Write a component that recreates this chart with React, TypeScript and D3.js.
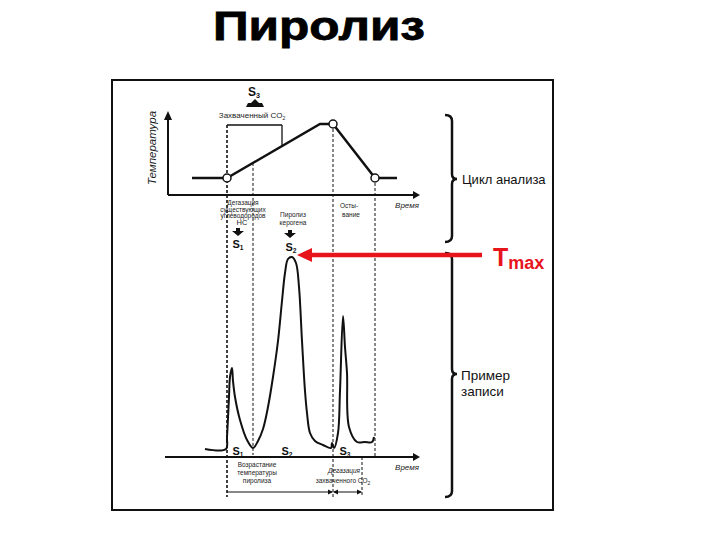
import React from 'react';
import * as d3 from 'd3';

// temperature program of the analysis cycle (time units, deg C)
const tempTime = [24, 59, 152, 165, 207, 229];
const tempValue = [300, 300, 600, 600, 300, 300];
const tempMarkers = [59, 165, 207];

// recorded FID signal (time units, relative intensity)
const sigTime = [37, 58, 59, 61, 62, 64, 65, 67, 72, 79, 85, 90, 95, 100, 105, 110, 114, 117, 120, 124, 128, 131, 134, 137, 139, 142, 147, 155, 163, 164, 166, 170, 172, 175, 177, 179, 181, 189, 197, 204, 206];
const sigValue = [4, 4, 10, 30, 40, 44.5, 38, 30, 18.5, 8.5, 4.5, 8, 14, 25, 40, 58, 78, 92, 99, 100, 97, 85, 58, 33, 22, 12, 8, 6, 4.5, 7, 4.5, 12, 33, 70.5, 55, 42, 15, 7.5, 7.5, 7.5, 10];

// phase boundaries (time units)
const tStart = 59;     // start of heating
const tS1End = 85;     // end of free HC degassing
const tTrapEnd = 114;  // end of CO2 trapping
const tHold = 165;     // end of max temperature plateau
const tCoolEnd = 207;  // end of cooling
const tCO2End = 194;   // end of trapped CO2 degassing
const tPeakS2 = 122;   // Tmax

const title = 'Пиролиз';
const upperLabel = 'Цикл анализа';
const lowerLabel = ['Пример', 'записи'];

const x = d3.scaleLinear().domain([0, 250]).range([168, 418]);
const yT = d3.scaleLinear().domain([200, 650]).range([196, 115]);
const yS = d3.scaleLinear().domain([0, 100]).range([457, 257]);

const RED = '#e8141c';
const FONT = '"Liberation Sans", Arial, sans-serif';

function DownArrow({ cx, y }: { cx: number; y: number }) {
  const p = [[cx - 2, y], [cx + 2, y], [cx + 2, y + 3], [cx + 6, y + 3], [cx, y + 8], [cx - 6, y + 3], [cx - 2, y + 3]];
  return <polygon points={p.map(d => d.join(',')).join(' ')} fill="#111" />;
}

function Brace({ xb, y1, y2, ym }: { xb: number; y1: number; y2: number; ym: number }) {
  const d = `M${xb - 7},${y1} Q${xb},${y1} ${xb},${y1 + 6} L${xb},${ym - 5} Q${xb},${ym} ${xb + 5},${ym} Q${xb},${ym} ${xb},${ym + 5} L${xb},${y2 - 6} Q${xb},${y2} ${xb - 7},${y2}`;
  return <path d={d} fill="none" stroke="#111" strokeWidth={2.5} />;
}

function SLabel({ x0, y0, n, size = 11 }: { x0: number; y0: number; n: number; size?: number }) {
  return (
    <text x={x0} y={y0} fontSize={size} fontWeight="bold" fontFamily={FONT} textAnchor="middle" fill="#111">
      S<tspan fontSize={size * 0.6} dy={2}>{n}</tspan>
    </text>
  );
}

export default function App() {
  const tempLine = d3.line<number>()
    .x((d, i) => x(tempTime[i]))
    .y((d) => yT(d));
  const sigLine = d3.line<number>()
    .x((d, i) => x(sigTime[i]))
    .y((d) => yS(d))
    .curve(d3.curveCatmullRom.alpha(0.5));

  const tAt = (t: number) => {
    const i = d3.bisectLeft(tempTime, t);
    if (i <= 0) return tempValue[0];
    const t0 = tempTime[i - 1], t1 = tempTime[i];
    return tempValue[i - 1] + (tempValue[i] - tempValue[i - 1]) * (t - t0) / (t1 - t0);
  };

  const axisY0 = yT(200) - 1; // 195
  const axisY1 = 457;
  const dash = '3,2';
  const small = { fontFamily: FONT, fontSize: 6.5, fill: '#222', textAnchor: 'middle' as const };

  return (
    <svg width={720} height={540} style={{ position: 'absolute', left: 0, top: 0, background: '#fff' }}>
      <text x={213} y={40} fontFamily={FONT} fontWeight="bold" fontSize={41} fill="#000" stroke="#000" strokeWidth={0.8}
        textLength={212} lengthAdjust="spacingAndGlyphs">{title}</text>

      <rect x={112} y={80} width={441} height={430} fill="none" stroke="#111" strokeWidth={2} />

      {/* upper: temperature axes */}
      <line x1={x(0)} y1={axisY0} x2={x(0)} y2={118} stroke="#111" strokeWidth={2} />
      <polygon points={`${x(0) - 4},${120} ${x(0) + 4},${120} ${x(0)},${111}`} fill="#111" />
      <line x1={x(0)} y1={axisY0} x2={x(247)} y2={axisY0} stroke="#111" strokeWidth={2} />
      <polygon points={`${x(245)},${axisY0 - 4} ${x(245)},${axisY0 + 4} ${x(252)},${axisY0}`} fill="#111" />
      <text x={407} y={208} fontFamily={FONT} fontStyle="italic" fontSize={8} textAnchor="middle" fill="#222">Время</text>
      <text transform={`translate(156,148) rotate(-90)`} fontFamily={FONT} fontStyle="italic" fontSize={11.5} textAnchor="middle" fill="#222">Температура</text>

      {/* guides */}
      <line x1={x(tStart)} y1={125} x2={x(tStart)} y2={497} stroke="#111" strokeWidth={1.6} strokeDasharray={dash} />
      <line x1={x(tS1End)} y1={yT(tAt(tS1End))} x2={x(tS1End)} y2={455} stroke="#111" strokeWidth={1} strokeDasharray={dash} />
      <line x1={x(tTrapEnd)} y1={125} x2={x(tTrapEnd)} y2={yT(tAt(tTrapEnd))} stroke="#111" strokeWidth={1.3} />
      <line x1={x(tStart)} y1={125} x2={x(tTrapEnd)} y2={125} stroke="#111" strokeWidth={1.3} />
      <line x1={x(tHold)} y1={yT(600)} x2={x(tHold)} y2={497} stroke="#111" strokeWidth={1} strokeDasharray={dash} />
      <line x1={x(tCoolEnd)} y1={yT(300)} x2={x(tCoolEnd)} y2={457} stroke="#111" strokeWidth={1} strokeDasharray={dash} />
      <line x1={x(tCO2End)} y1={457} x2={x(tCO2End)} y2={497} stroke="#111" strokeWidth={1} strokeDasharray={dash} />

      <path d={tempLine(tempValue) || ''} fill="none" stroke="#111" strokeWidth={2.5} />
      {tempMarkers.map((t) => (
        <circle key={t} cx={x(t)} cy={yT(tAt(t))} r={4} fill="#fff" stroke="#111" strokeWidth={1.5} />
      ))}

      <SLabel x0={254} y0={96} n={3} size={12} />
      <polygon points="246,107 264,107 262,103 259,103 255,99 251,103 248,103" fill="#111" />
      <text x={252} y={118} fontFamily={FONT} fontSize={8} textAnchor="middle" fill="#222">Захваченный CO<tspan fontSize={5} dy={2}>2</tspan></text>

      <text x={243} y={205} {...small}>Дегазация</text>
      <text x={243} y={211.5} {...small}>существующих</text>
      <text x={243} y={218} {...small}>углеводородов</text>
      <text x={242} y={225} {...small} fontSize={7.5}>HC</text>
      <DownArrow cx={238} y={228} />
      <SLabel x0={238} y0={248} n={1} />

      <text x={293} y={217} {...small}>Пиролиз</text>
      <text x={293} y={225} {...small}>керогена</text>
      <DownArrow cx={290} y={230} />
      <SLabel x0={291} y0={251} n={2} />

      <text x={349} y={208} {...small}>Осты-</text>
      <text x={351} y={217} {...small}>вание</text>

      {/* lower: record */}
      <line x1={165} y1={axisY1} x2={x(247)} y2={axisY1} stroke="#111" strokeWidth={2} />
      <polygon points={`${x(245)},${axisY1 - 4} ${x(245)},${axisY1 + 4} ${x(252)},${axisY1}`} fill="#111" />
      <text x={407} y={470} fontFamily={FONT} fontStyle="italic" fontSize={8} textAnchor="middle" fill="#222">Время</text>

      <path d={sigLine(sigValue) || ''} fill="none" stroke="#111" strokeWidth={2} />

      <SLabel x0={238} y0={455} n={1} />
      <SLabel x0={287} y0={455} n={2} />
      <SLabel x0={345} y0={455} n={3} />

      <text x={257} y={467} {...small}>Возрастание</text>
      <text x={257} y={475} {...small}>температуры</text>
      <text x={257} y={483} {...small}>пиролиза</text>
      <text x={344} y={473} {...small} fontStyle="italic">Дегазация</text>
      <text x={343} y={483} {...small}>захваченного CO<tspan fontSize={5} dy={2}>2</tspan></text>

      <line x1={x(tStart)} y1={492} x2={x(tHold) - 1} y2={492} stroke="#111" strokeWidth={1} />
      <polygon points={`${x(tHold) - 5},489.5 ${x(tHold) - 5},494.5 ${x(tHold)},492`} fill="#111" />
      <line x1={x(tHold) + 1} y1={492} x2={x(tCO2End) - 1} y2={492} stroke="#111" strokeWidth={1} />
      <polygon points={`${x(tHold) + 5},489.5 ${x(tHold) + 5},494.5 ${x(tHold)},492`} fill="#111" />
      <polygon points={`${x(tCO2End) - 5},489.5 ${x(tCO2End) - 5},494.5 ${x(tCO2End)},492`} fill="#111" />

      {/* braces */}
      <Brace xb={452} y1={115} y2={242} ym={179} />
      <text x={462} y={184} fontFamily={FONT} fontSize={13} fill="#111">{upperLabel}</text>
      <Brace xb={452} y1={253} y2={497} ym={374} />
      <text x={461} y={380} fontFamily={FONT} fontSize={13.5} fill="#111">{lowerLabel[0]}</text>
      <text x={461} y={396} fontFamily={FONT} fontSize={13.5} fill="#111">{lowerLabel[1]}</text>

      {/* Tmax */}
      <line x1={x(tPeakS2) + 20} y1={yS(100) - 2} x2={482} y2={yS(100) - 2} stroke={RED} strokeWidth={4.5} />
      <polygon points={`${x(tPeakS2) + 7},${yS(100) - 2} ${x(tPeakS2) + 22},${yS(100) - 9} ${x(tPeakS2) + 22},${yS(100) + 5}`} fill={RED} />
      <text x={493} y={266} fontFamily={FONT} fontWeight="bold" fontSize={25} fill={RED}>T<tspan fontSize={18} dy={3}>max</tspan></text>
    </svg>
  );
}
